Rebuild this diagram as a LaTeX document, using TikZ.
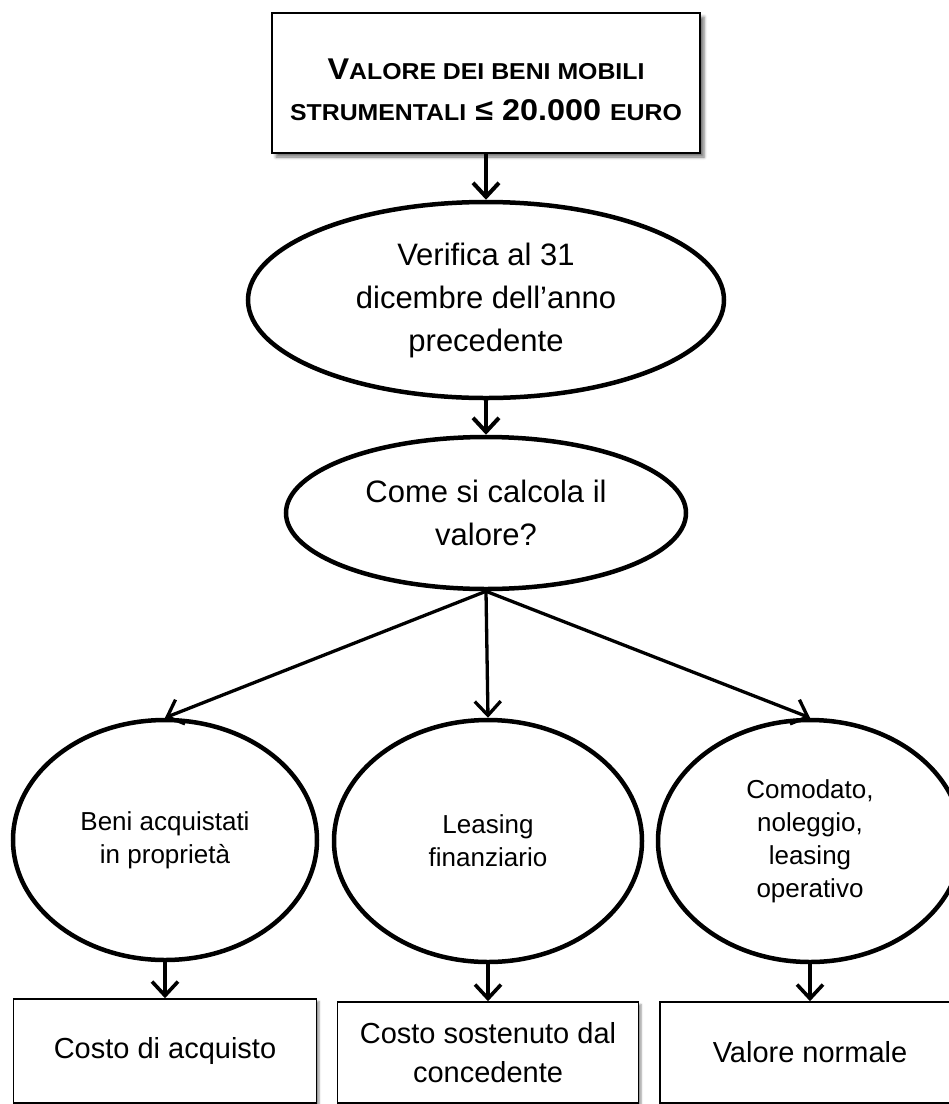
\documentclass[tikz,border=0pt]{standalone}
\usepackage{fontspec}
\setmainfont{Liberation Sans}
\usetikzlibrary{arrows.meta,shapes.geometric,shadows.blur}

% reduced capitals for the small-caps title
\newcommand\lowcaps[1]{{\fontsize{23}{27}\selectfont #1}}

\begin{document}
\begin{tikzpicture}[x=1pt,y=-1pt,
  oval/.style={ellipse, draw, line width=4.5pt, inner sep=0pt, align=center, fill=white},
  bigtext/.style={font=\fontsize{31}{43}\selectfont},
  smalltext/.style={font=\fontsize{26}{33}\selectfont},
  outbox/.style={rectangle, draw, line width=1.6pt, fill=white, inner sep=0pt, align=center,
    minimum height=104pt, font=\fontsize{29}{39}\selectfont,
    blur shadow={shadow xshift=2.5pt, shadow yshift=-2.5pt, shadow blur radius=2pt, shadow opacity=45}},
  arr/.style={line width=3.6pt, -{Straight Barb[length=14pt,width=26pt]}},
]
\useasboundingbox (0,0) rectangle (949,1104);

% title box
\node[rectangle, draw, line width=2.5pt, fill=white, minimum width=428pt, minimum height=140pt,
      blur shadow={shadow xshift=4pt, shadow yshift=-4pt, shadow blur radius=3pt, shadow opacity=55}]
      (title) at (486,83) {};
\node[align=center, font=\bfseries\fontsize{30}{41}\selectfont, inner sep=0pt] (titletext) at (486,90)
  {\scalebox{1.08}[1]{V\lowcaps{ALORE DEI BENI MOBILI}}\\
   \scalebox{1.08}[1]{\lowcaps{STRUMENTALI} ≤ 20.000 \lowcaps{EURO}}};

% question ovals
\node[oval, bigtext, minimum width=476pt, minimum height=196pt] (check) at (486,300)
  {Verifica al 31\\dicembre dell’anno\\precedente};
\node[oval, bigtext, minimum width=400pt, minimum height=152pt] (how) at (486,513)
  {Come si calcola il\\valore?};

% three cases
\node[oval, smalltext, minimum width=304pt, minimum height=240pt] (own) at (165,840)
  {Beni acquistati\\in proprietà};
\node[oval, smalltext, minimum width=308pt, minimum height=242pt] (fin) at (488,841)
  {Leasing\\finanziario};
\node[oval, smalltext, minimum width=304pt, minimum height=242pt] (oper) at (810,841)
  {Comodato,\\noleggio,\\leasing\\operativo};

% resulting values
\node[outbox, minimum width=303pt] (cost) at (165,1051) {Costo di acquisto};
\node[outbox, minimum width=301pt, minimum height=101pt] (grant) at (488,1052.5) {Costo sostenuto dal\\concedente};
\node[outbox, minimum width=300pt, minimum height=101pt] (norm) at (810,1052.5) {Valore normale};

% connectors
\draw[arr, line width=4pt] (title.south) -- (check.north);
\draw[arr, line width=4pt] (check.south) -- (how.north);
\draw[arr, line width=3.3pt] (how.south) -- (own.north);
\draw[arr, line width=3.3pt] (how.south) -- (fin.north);
\draw[arr, line width=3.3pt] (how.south) -- (oper.north);
\draw[arr] (own.south) -- (cost.north);
\draw[arr] (fin.south) -- (grant.north);
\draw[arr] (oper.south) -- (norm.north);
\end{tikzpicture}
\end{document}
